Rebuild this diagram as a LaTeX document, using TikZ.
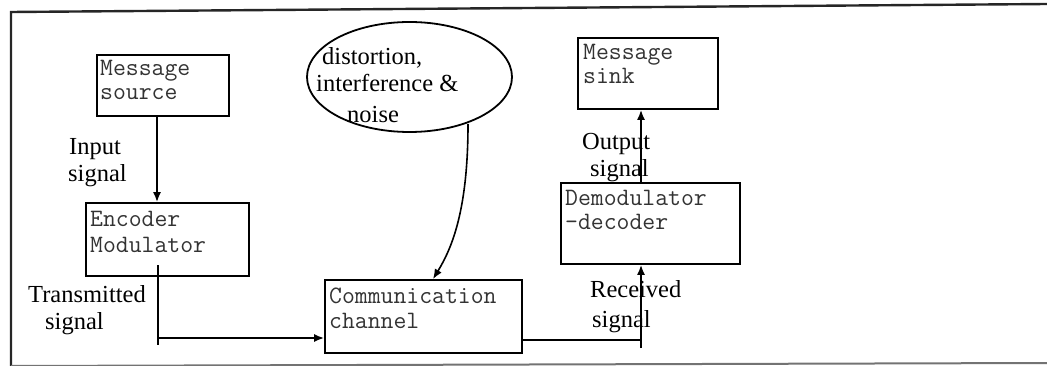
\documentclass[tikz,border=0pt]{standalone}
\usepackage{fontspec}
\setmainfont{Liberation Serif}
\usetikzlibrary{arrows.meta,shapes.geometric}
\tikzset{
  box/.style={draw=black, line width=1.8pt, inner sep=0pt, fill=white},
  mono/.style={anchor=base west, inner sep=0pt, font=\fontsize{25}{27}\selectfont\ttfamily, text=black!80},
  lbl/.style={anchor=base west, inner sep=0pt, font=\fontsize{24.5}{26}\selectfont},
  conn/.style={line width=1.6pt, draw=black},
  arr/.style={conn, -{Latex[length=10pt,width=8pt]}},
}
\begin{document}
\begin{tikzpicture}[x=1pt,y=-1pt]
\useasboundingbox (0,0) rectangle (1047,366);
\clip (0,0) rectangle (1047,366);
% frame
\draw[line width=2.4pt, black!85] (11,368) -- (11,12) -- (1047,4);
\draw[line width=2pt, black!55] (11,366) -- (1047,363);

% boxes
\node[box, minimum width=132pt, minimum height=61pt] (src) at (163,85.5) {};
\node[box, minimum width=163pt, minimum height=73pt] (enc) at (167.5,239.5) {};
\node[box, minimum width=197pt, minimum height=73pt] (chan) at (423.5,316.5) {};
\node[box, minimum width=140pt, minimum height=71pt] (sink) at (648,73.5) {};
\node[box, minimum width=179pt, minimum height=81pt] (dem) at (650.5,223.5) {};
\node[draw=black, line width=1.8pt, ellipse, inner sep=0pt, minimum width=205pt, minimum height=110pt] (noise) at (409.5,77) {};

% box texts
\node[mono] (srcA) at (100,76) {Message};
\node[mono] (srcB) at (100,100) {source};
\node[mono] (encA) at (90,227) {Encoder};
\node[mono] (encB) at (90,252) {Modulator};
\node[mono] (chanA) at (329,303) {Communication};
\node[mono] (chanB) at (329,328) {channel};
\node[mono] (sinkA) at (583,60) {Message};
\node[mono] (sinkB) at (583,84) {sink};
\node[mono] (demA) at (565,206) {Demodulator};
\node[mono] (demB) at (565,230) {-decoder};

% ellipse text
\node[lbl] (nA) at (322,65) {distortion,};
\node[lbl] (nB) at (316,92) {interference \&};
\node[lbl] (nC) at (347,123) {noise};

% labels
\node[lbl] (inA) at (69,155) {Input};
\node[lbl] (inB) at (68,182) {signal};
\node[lbl] (trA) at (28,302) {Transmitted};
\node[lbl] (trB) at (45,329) {signal};
\node[lbl] (outA) at (582,150) {Output};
\node[lbl] (outB) at (590,177) {signal};
\node[lbl] (rcA) at (590,298) {Received};
\node[lbl] (rcB) at (592,327) {signal};

% connectors
\draw[arr] ([xshift=-6pt]src.south) -- ([xshift=-6pt]src.south |- enc.north);

\coordinate (t1) at (158,265);
\coordinate (t2) at (158,345);
\coordinate (t3) at (158,338);
\draw[conn] (t1) -- (t2);
\draw[arr] (t3) -- (t3 -| chan.west);

\coordinate (n1) at (468,124);
\draw[arr] (n1) .. controls (468,210) and (452,248) .. ([xshift=9.5pt]chan.north);

\coordinate (r1) at (641,340);
\coordinate (r2) at (641,348);
\draw[conn] (r1 -| chan.east) -- (r1);
\draw[arr] (r2) -- (r2 |- dem.south);

\coordinate (o1) at (641,184);
\draw[arr] (o1 |- dem.north) -- (o1 |- sink.south);
\end{tikzpicture}
\end{document}
